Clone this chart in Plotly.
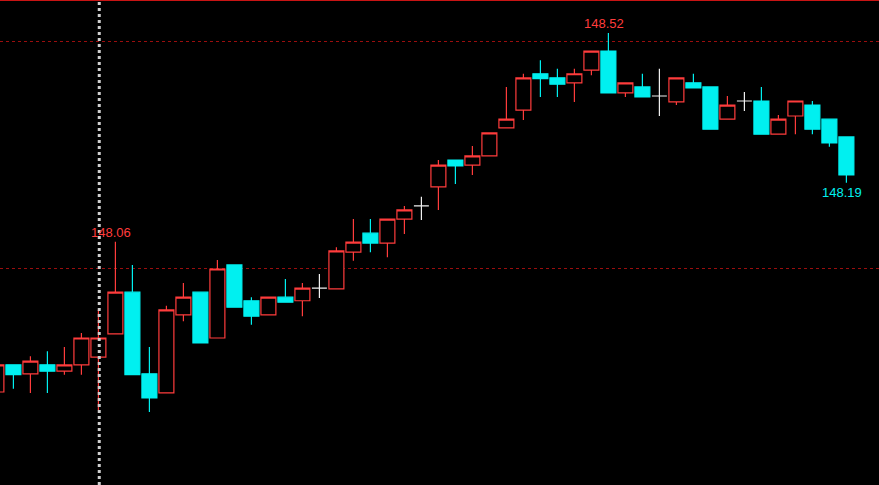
import plotly.graph_objects as go

# ---- data (bar index, open, high, low, close) ----
idx = list(range(51))
opens = [147.729, 147.789, 147.769, 147.789, 147.775, 147.789, 147.806, 147.857, 147.949, 147.769,
         147.727, 147.899, 147.949, 147.848, 148.009, 147.930, 147.899, 147.938, 147.930, 147.958,
         147.956, 148.037, 148.079, 148.057, 148.110, 148.139, 148.181, 148.240, 148.229, 148.249,
         148.311, 148.350, 148.430, 148.421, 148.410, 148.438, 148.480, 148.388, 148.401, 148.381,
         148.368, 148.410, 148.401, 148.330, 148.370, 148.370, 148.297, 148.337, 148.361, 148.330,
         148.291]
highs = [147.793, 147.789, 147.808, 147.819, 147.828, 147.859, 147.910, 148.060, 148.009, 147.828,
         147.919, 147.969, 147.949, 148.020, 148.009, 147.938, 147.938, 147.978, 147.969, 147.989,
         148.048, 148.110, 148.110, 148.110, 148.139, 148.159, 148.240, 148.240, 148.271, 148.300,
         148.401, 148.430, 148.460, 148.441, 148.441, 148.480, 148.520, 148.410, 148.430, 148.441,
         148.421, 148.430, 148.401, 148.381, 148.390, 148.401, 148.339, 148.370, 148.370, 148.330,
         148.291]
lows = [147.725, 147.736, 147.727, 147.727, 147.767, 147.767, 147.689, 147.857, 147.767, 147.685,
        147.727, 147.885, 147.837, 147.848, 147.916, 147.877, 147.899, 147.927, 147.896, 147.936,
        147.956, 148.018, 148.037, 148.026, 148.077, 148.108, 148.130, 148.187, 148.207, 148.249,
        148.311, 148.328, 148.379, 148.379, 148.368, 148.427, 148.388, 148.379, 148.379, 148.337,
        148.361, 148.399, 148.308, 148.330, 148.348, 148.297, 148.297, 148.297, 148.297, 148.269,
        148.190]
closes = [147.789, 147.767, 147.797, 147.775, 147.789, 147.848, 147.848, 147.949, 147.767, 147.716,
          147.910, 147.938, 147.837, 148.000, 147.916, 147.896, 147.938, 147.927, 147.958, 147.958,
          148.040, 148.059, 148.057, 148.110, 148.130, 148.139, 148.229, 148.227, 148.249, 148.300,
          148.330, 148.421, 148.419, 148.407, 148.430, 148.480, 148.388, 148.410, 148.379, 148.381,
          148.421, 148.399, 148.308, 148.361, 148.370, 148.297, 148.330, 148.370, 148.308, 148.278,
          148.207]

grid_levels = [148.00, 148.50]
cursor_bar = 6
labels = [("148.52", 36, 148.52, "bottom", "#FF3C3C"),
          ("148.06", 7, 148.06, "bottom", "#FF3C3C"),
          ("148.19", 50, 148.19, "top", "#00F0F0")]

RED = "#FF3C3C"
CYAN = "#00F0F0"
WHITE = "#F0F0F0"

# split into directional candles and doji
mi, mo, mh, ml, mc = [], [], [], [], []
di, do, dh, dl, dc = [], [], [], [], []
for i, o, h, l, c in zip(idx, opens, highs, lows, closes):
    if abs(o - c) < 1e-9:
        di.append(i); do.append(o); dh.append(h); dl.append(l); dc.append(c)
    else:
        mi.append(i); mo.append(o); mh.append(h); ml.append(l); mc.append(c)

fig = go.Figure()
fig.add_trace(go.Candlestick(
    x=mi, open=mo, high=mh, low=ml, close=mc,
    increasing=dict(line=dict(color=RED, width=1.2), fillcolor="#000000"),
    decreasing=dict(line=dict(color=CYAN, width=1.2), fillcolor=CYAN),
    whiskerwidth=0, showlegend=False, hoverinfo="skip",
))
fig.add_trace(go.Candlestick(
    x=di, open=do, high=dh, low=dl, close=dc,
    increasing=dict(line=dict(color=WHITE, width=1.2), fillcolor=WHITE),
    decreasing=dict(line=dict(color=WHITE, width=1.2), fillcolor=WHITE),
    whiskerwidth=0, showlegend=False, hoverinfo="skip",
))

for text, xi, yv, anchor, col in labels:
    fig.add_annotation(x=xi, y=yv, text=text, showarrow=False, xanchor="center",
                       yanchor=anchor, xshift=-4,
                       font=dict(family="Liberation Sans, Arial", size=13, color=col))

# top border line
fig.add_shape(type="line", xref="paper", yref="paper", x0=0, x1=1, y0=1, y1=1,
              line=dict(color="#C81414", width=2))
# cursor dotted line
fig.add_shape(type="line", xref="x", yref="paper", x0=cursor_bar + 0.05, x1=cursor_bar + 0.05,
              y0=0, y1=1, line=dict(color="#D0D0D0", width=3, dash="3px,3px"))

fig.update_layout(
    width=879, height=485,
    margin=dict(l=0, r=0, t=0, b=0),
    paper_bgcolor="#000000", plot_bgcolor="#000000",
    boxgap=0.12, boxgroupgap=0,
    xaxis=dict(range=[0.212, 51.918], visible=False, rangeslider=dict(visible=False),
               showgrid=False, zeroline=False, fixedrange=True),
    yaxis=dict(range=[147.5242, 148.5925], showgrid=True, gridcolor="#9A0E0E",
               griddash="3px,3px", gridwidth=1, tickvals=grid_levels,
               showticklabels=False, zeroline=False, showline=False, ticks="",
               fixedrange=True),
    showlegend=False,
    hovermode=False,
)

fig.write_html(
    "out.html",
    config={"displayModeBar": False, "staticPlot": True},
    post_script="document.body.style.margin='0';document.body.style.padding='0';"
                "document.body.style.overflow='hidden';document.body.style.background='#000';",
)
